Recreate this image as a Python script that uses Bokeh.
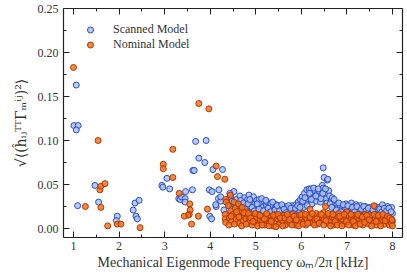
from bokeh.plotting import figure
from bokeh.models import LinearAxis, FixedTicker, NumeralTickFormatter, Legend, LegendItem, Range1d
from bokeh.embed import file_html
from bokeh.resources import INLINE

# ---- data ----
scanned_x = [1.06, 1.01, 1.10, 1.06, 1.09, 1.47, 1.55, 1.96, 1.94, 2.31, 2.35, 2.44, 2.37, 2.40,
             2.94, 2.96, 3.05, 3.11, 3.31, 3.34, 3.37, 3.46, 3.45, 3.45, 3.61, 3.62, 3.65, 3.68,
             3.75, 3.88, 3.91, 3.98, 4.04, 3.99, 4.03, 4.06, 4.13, 4.18, 4.19, 4.27, 4.23, 4.30,
             4.12, 4.23, 4.41,
             4.40, 4.42, 4.45, 4.47, 4.50, 4.52, 4.55, 4.58, 4.60, 4.62, 4.65, 4.68, 4.70, 4.72,
             4.75, 4.78, 4.80, 4.82, 4.85, 4.88, 4.90, 4.93, 4.95, 4.98, 5.00, 5.02, 5.05, 5.08,
             5.10, 5.12, 5.15, 5.18, 5.20, 5.23, 5.25, 5.28, 5.30, 5.33, 5.35, 5.38, 5.40, 5.43,
             5.45, 5.48, 5.50, 5.53, 5.55, 5.58, 5.60, 5.63, 5.65, 5.68, 5.70, 5.73, 5.75, 5.78,
             5.80, 5.83, 5.85, 5.88, 5.90, 5.93, 5.95, 5.98, 6.00, 6.02, 6.05, 6.07, 6.10, 6.12,
             6.15, 6.17, 6.20, 6.21, 6.23, 6.25, 6.28, 6.30, 6.33, 6.35, 6.38, 6.40, 6.42, 6.45,
             6.46, 6.48, 6.48, 6.50, 6.52, 6.55, 6.57, 6.58, 6.60, 6.62, 6.65, 6.68, 6.70, 6.73,
             6.75, 6.78, 6.80, 6.83, 6.85, 6.88, 6.90, 6.93, 6.95, 6.98, 7.00, 7.03, 7.05, 7.08,
             7.10, 7.13, 7.15, 7.18, 7.20, 7.23, 7.25, 7.28, 7.30, 7.33, 7.35, 7.38, 7.40, 7.43,
             7.45, 7.48, 7.50, 7.53, 7.55, 7.58, 7.60, 7.63, 7.65, 7.68, 7.70, 7.73, 7.75, 7.78,
             7.80, 7.83, 7.85, 7.89, 7.90, 7.93, 7.95, 7.98, 8.00,
             4.60, 5.00, 5.40, 5.80, 6.20, 6.60, 7.00, 7.40, 7.80, 8.00,
             4.43, 4.48, 4.56, 4.63, 4.67, 4.73, 4.77, 4.83, 4.87, 4.92, 4.97, 5.03, 5.07, 5.13,
             5.17, 5.22, 5.27, 5.32, 5.37, 5.42, 5.47, 5.52, 5.57, 5.62, 5.67, 5.72, 5.77, 5.82,
             5.87, 5.92, 5.97, 6.03, 6.08, 6.13, 6.18, 6.22, 6.27, 6.32, 6.37, 6.43, 6.47, 6.53,
             6.56, 6.63, 6.67, 6.72, 6.77, 6.82, 6.87, 6.92, 6.97, 7.02, 7.07, 7.12, 7.17, 7.22,
             7.27, 7.32, 7.37, 7.42, 7.47, 7.52, 7.57, 7.62, 7.67, 7.72, 7.77, 7.82, 7.87, 7.92, 7.97]
scanned_y = [0.163, 0.117, 0.117, 0.112, 0.026, 0.049, 0.030, 0.014, 0.009, 0.021, 0.029, 0.032, 0.014, 0.011,
             0.049, 0.047, 0.057, 0.045, 0.034, 0.033, 0.036, 0.042, 0.034, 0.030, 0.044, 0.066, 0.066, 0.099,
             0.080, 0.075, 0.100, 0.044, 0.042, 0.014, 0.011, 0.067, 0.025, 0.034, 0.044, 0.067, 0.031, 0.021,
             0.027, 0.036, 0.034,
             0.028, 0.015, 0.036, 0.022, 0.030, 0.042, 0.018, 0.033, 0.026, 0.012, 0.037, 0.024, 0.031, 0.016,
             0.035, 0.027, 0.020, 0.033, 0.038, 0.025, 0.030, 0.018, 0.036, 0.028, 0.022, 0.032, 0.026, 0.033,
             0.019, 0.029, 0.024, 0.031, 0.021, 0.027, 0.030, 0.018, 0.025, 0.028, 0.022, 0.026, 0.017, 0.024,
             0.027, 0.020, 0.023, 0.025, 0.016, 0.022, 0.024, 0.019, 0.025, 0.021, 0.023, 0.018, 0.024, 0.020,
             0.026, 0.022, 0.019, 0.027, 0.024, 0.030, 0.021, 0.033, 0.027, 0.036, 0.024, 0.040, 0.030, 0.044,
             0.034, 0.045, 0.038, 0.045, 0.028, 0.041, 0.035, 0.043, 0.031, 0.039, 0.036, 0.042, 0.030, 0.038,
             0.049, 0.046, 0.069, 0.058, 0.040, 0.034, 0.055, 0.056, 0.043, 0.037, 0.031, 0.035, 0.026, 0.029,
             0.022, 0.027, 0.024, 0.020, 0.026, 0.022, 0.018, 0.025, 0.021, 0.028, 0.023, 0.019, 0.026, 0.022,
             0.029, 0.020, 0.025, 0.023, 0.027, 0.018, 0.024, 0.021, 0.026, 0.019, 0.023, 0.020, 0.025, 0.017,
             0.022, 0.019, 0.024, 0.020, 0.018, 0.023, 0.021, 0.017, 0.022, 0.019, 0.024, 0.018, 0.021, 0.027,
             0.020, 0.016, 0.022, 0.025, 0.018, 0.020, 0.014, 0.024, 0.017,
             0.008, 0.010, 0.009, 0.011, 0.012, 0.010, 0.009, 0.011, 0.010, 0.008,
             0.040, 0.031, 0.027, 0.020, 0.032, 0.029, 0.022, 0.028, 0.033, 0.024, 0.020, 0.028, 0.022, 0.034,
             0.020, 0.032, 0.023, 0.019, 0.030, 0.021, 0.026, 0.020, 0.027, 0.022, 0.018, 0.026, 0.023, 0.017,
             0.023, 0.026, 0.024, 0.031, 0.035, 0.026, 0.040, 0.033, 0.046, 0.037, 0.045, 0.034, 0.040, 0.045,
             0.029, 0.028, 0.024, 0.033, 0.021, 0.029, 0.019, 0.027, 0.016, 0.026, 0.017, 0.024, 0.019, 0.025,
             0.016, 0.022, 0.025, 0.020, 0.023, 0.016, 0.021, 0.025, 0.016, 0.022, 0.019, 0.023, 0.020, 0.023, 0.019]

nominal_x = [1.00, 1.54, 1.26, 1.58, 1.60, 1.69, 1.60, 1.75, 1.96, 2.04, 2.46, 2.97, 2.97, 3.18,
             3.18, 3.32, 3.55, 3.56, 3.54, 3.51, 3.43, 3.59, 3.74, 3.94, 4.13, 4.16, 4.32, 4.34,
             4.35, 4.33, 4.33, 4.34, 4.44, 3.75, 3.97,
             4.40, 4.42, 4.45, 4.47, 4.50, 4.52, 4.55, 4.57, 4.60, 4.62, 4.64, 4.66, 4.68, 4.70,
             4.72, 4.75, 4.78, 4.80, 4.82, 4.85, 4.88, 4.90, 4.92, 4.95, 4.98, 5.00, 5.02, 5.05,
             5.07, 5.10, 5.12, 5.15, 5.17, 5.20, 5.22, 5.25, 5.28, 5.30, 5.33, 5.35, 5.38, 5.40,
             5.43, 5.45, 5.48, 5.50, 5.52, 5.55, 5.58, 5.60, 5.62, 5.65, 5.68, 5.70, 5.72, 5.75,
             5.78, 5.80, 5.82, 5.85, 5.88, 5.90, 5.92, 5.95, 5.98, 6.00, 6.03, 6.05, 6.08, 6.10,
             6.12, 6.15, 6.18, 6.19, 6.22, 6.25, 6.28, 6.30, 6.33, 6.35, 6.38, 6.40, 6.43, 6.45,
             6.48, 6.50, 6.53, 6.55, 6.58, 6.60, 6.63, 6.65, 6.68, 6.70, 6.73, 6.75, 6.78, 6.80,
             6.82, 6.85, 6.88, 6.90, 6.93, 6.95, 6.98, 7.00, 7.02, 7.05, 7.08, 7.10, 7.13, 7.15,
             7.18, 7.20, 7.23, 7.25, 7.28, 7.30, 7.33, 7.35, 7.38, 7.40, 7.43, 7.45, 7.48, 7.50,
             7.53, 7.55, 7.58, 7.59, 7.62, 7.65, 7.68, 7.70, 7.73, 7.75, 7.78, 7.80, 7.83, 7.85,
             7.88, 7.90, 7.93, 7.95, 7.98, 8.00,
             4.41, 4.46, 4.53, 4.58, 4.63, 4.69, 4.74, 4.79, 4.84, 4.89, 4.94, 4.99, 5.04, 5.09,
             5.14, 5.19, 5.24, 5.29, 5.34, 5.39, 5.44, 5.49, 5.54, 5.59, 5.64, 5.69, 5.74, 5.79,
             5.84, 5.89, 5.94, 5.99, 6.04, 6.09, 6.14, 6.19, 6.24, 6.29, 6.34, 6.39, 6.44, 6.49,
             6.54, 6.59, 6.64, 6.69, 6.74, 6.79, 6.84, 6.89, 6.94, 6.99, 7.04, 7.09, 7.14, 7.19,
             7.24, 7.29, 7.34, 7.39, 7.44, 7.49, 7.54, 7.60, 7.64, 7.69, 7.74, 7.79, 7.84, 7.89, 7.94, 7.99]
nominal_y = [0.183, 0.100, 0.025, 0.044, 0.048, 0.051, 0.024, 0.003, 0.005, 0.005, 0.001, 0.073, 0.068, 0.090,
             0.058, 0.040, 0.028, 0.021, 0.016, 0.015, 0.014, 0.005, 0.014, 0.022, 0.071, 0.059, 0.056, 0.033,
             0.030, 0.016, 0.011, 0.007, 0.038, 0.142, 0.136,
             0.026, 0.012, 0.020, 0.008, 0.016, 0.030, 0.023, 0.010, 0.017, 0.028, 0.006, 0.020, 0.013, 0.024,
             0.009, 0.015, 0.011, 0.019, 0.006, 0.013, 0.008, 0.016, 0.004, 0.011, 0.014, 0.007, 0.012, 0.016,
             0.005, 0.010, 0.014, 0.008, 0.012, 0.004, 0.015, 0.009, 0.012, 0.006, 0.014, 0.010, 0.003, 0.012,
             0.016, 0.007, 0.011, 0.014, 0.005, 0.010, 0.013, 0.008, 0.015, 0.004, 0.011, 0.009, 0.014, 0.006,
             0.012, 0.016, 0.008, 0.011, 0.004, 0.013, 0.009, 0.015, 0.006, 0.012, 0.017, 0.008, 0.013, 0.004,
             0.011, 0.015, 0.009, 0.022, 0.012, 0.006, 0.014, 0.010, 0.017, 0.005, 0.012, 0.015, 0.008, 0.013,
             0.018, 0.010, 0.025, 0.014, 0.006, 0.012, 0.016, 0.009, 0.013, 0.004, 0.011, 0.015, 0.008, 0.012,
             0.017, 0.006, 0.011, 0.014, 0.009, 0.005, 0.012, 0.019, 0.010, 0.014, 0.007, 0.012, 0.004, 0.011,
             0.015, 0.008, 0.013, 0.006, 0.010, 0.014, 0.009, 0.004, 0.012, 0.016, 0.008, 0.011, 0.005, 0.013,
             0.009, 0.015, 0.007, 0.026, 0.011, 0.004, 0.012, 0.009, 0.014, 0.006, 0.010, 0.013, 0.005, 0.011,
             0.008, 0.012, 0.004, 0.009, 0.006, 0.003,
             0.004, 0.014, 0.005, 0.019, 0.013, 0.003, 0.018, 0.005, 0.017, 0.012, 0.008, 0.017, 0.003, 0.015,
             0.004, 0.011, 0.017, 0.003, 0.008, 0.015, 0.002, 0.016, 0.012, 0.003, 0.012, 0.016, 0.010, 0.004,
             0.014, 0.010, 0.003, 0.016, 0.005, 0.016, 0.006, 0.013, 0.017, 0.004, 0.011, 0.006, 0.016, 0.004,
             0.009, 0.017, 0.003, 0.016, 0.008, 0.004, 0.014, 0.003, 0.016, 0.008, 0.004, 0.016, 0.008, 0.003,
             0.016, 0.005, 0.013, 0.007, 0.015, 0.010, 0.003, 0.016, 0.008, 0.015, 0.003, 0.016, 0.009, 0.014, 0.012, 0.010]

x_ticks = [1, 2, 3, 4, 5, 6, 7, 8]
x_minor = [1.5, 2.5, 3.5, 4.5, 5.5, 6.5, 7.5]
y_ticks = [0.0, 0.05, 0.10, 0.15, 0.20, 0.25]
y_minor = [0.025, 0.075, 0.125, 0.175, 0.225]

FONT = "Liberation Serif"
AX = "#222222"

p = figure(frame_width=339, frame_height=229, output_backend="svg", toolbar_location=None,
           x_range=Range1d(0.78, 8.22), y_range=Range1d(-0.0102, 0.25),
           min_border_left=63, min_border_top=8, min_border_right=2, min_border_bottom=10)
p.xgrid.visible = False
p.ygrid.visible = False
p.outline_line_color = None

r1 = p.scatter(scanned_x, scanned_y, size=6, marker="circle", fill_color="#abc3f3", fill_alpha=0.85,
               line_color="#2a4cc8", line_width=1)
r2 = p.scatter(nominal_x, nominal_y, size=6, marker="circle", fill_color="#ee7420", fill_alpha=0.85,
               line_color="#b33800", line_width=1)

def style(ax, ticks, minor, labels=True):
    ax.ticker = FixedTicker(ticks=ticks, minor_ticks=minor)
    ax.axis_line_color = AX
    ax.axis_line_width = 1.2
    ax.major_tick_line_color = AX
    ax.minor_tick_line_color = AX
    ax.major_tick_in = 6
    ax.major_tick_out = 0
    ax.minor_tick_in = 3
    ax.minor_tick_out = 0
    ax.major_label_text_font = FONT
    ax.major_label_text_font_size = "12px"
    ax.major_label_text_color = "#333333"
    ax.axis_label_text_font = FONT
    ax.axis_label_text_font_style = "normal"
    ax.axis_label_text_color = "#333333"
    if not labels:
        ax.major_label_overrides = {t: "" for t in ticks}
        ax.major_label_standoff = 0

xa = p.xaxis[0]
ya = p.yaxis[0]
style(xa, x_ticks, x_minor)
style(ya, y_ticks, y_minor)
ya.formatter = NumeralTickFormatter(format="0.00")
xa.major_label_standoff = 4
ya.major_label_standoff = 5
xa.axis_label = "Mechanical Eigenmode Frequency ωₘ/2π [kHz]"
xa.axis_label_text_font_size = "14px"
xa.axis_label_standoff = 2
ya.axis_label = "√⟨(ĥᵢⱼᵀᵀΓₘⁱʲ)²⟩"
ya.axis_label_text_font = "DejaVu Serif"
ya.axis_label_text_font_size = "14px"
ya.axis_label_standoff = 6

top = LinearAxis()
style(top, x_ticks, x_minor, labels=False)
p.add_layout(top, "above")
right = LinearAxis()
style(right, y_ticks, y_minor, labels=False)
p.add_layout(right, "right")

legend = Legend(items=[LegendItem(label="Scanned Model", renderers=[r1]),
                       LegendItem(label="Nominal Model", renderers=[r2])],
                location="top_left")
legend.border_line_color = None
legend.background_fill_alpha = 0
legend.label_text_font = FONT
legend.label_text_font_size = "12px"
legend.label_text_color = "#333333"
legend.margin = 14
legend.padding = 0
legend.glyph_width = 26
legend.glyph_height = 15
legend.label_height = 15
legend.spacing = -2
legend.label_standoff = 10
p.add_layout(legend)

open("out.html", "w").write(file_html(p, INLINE))
